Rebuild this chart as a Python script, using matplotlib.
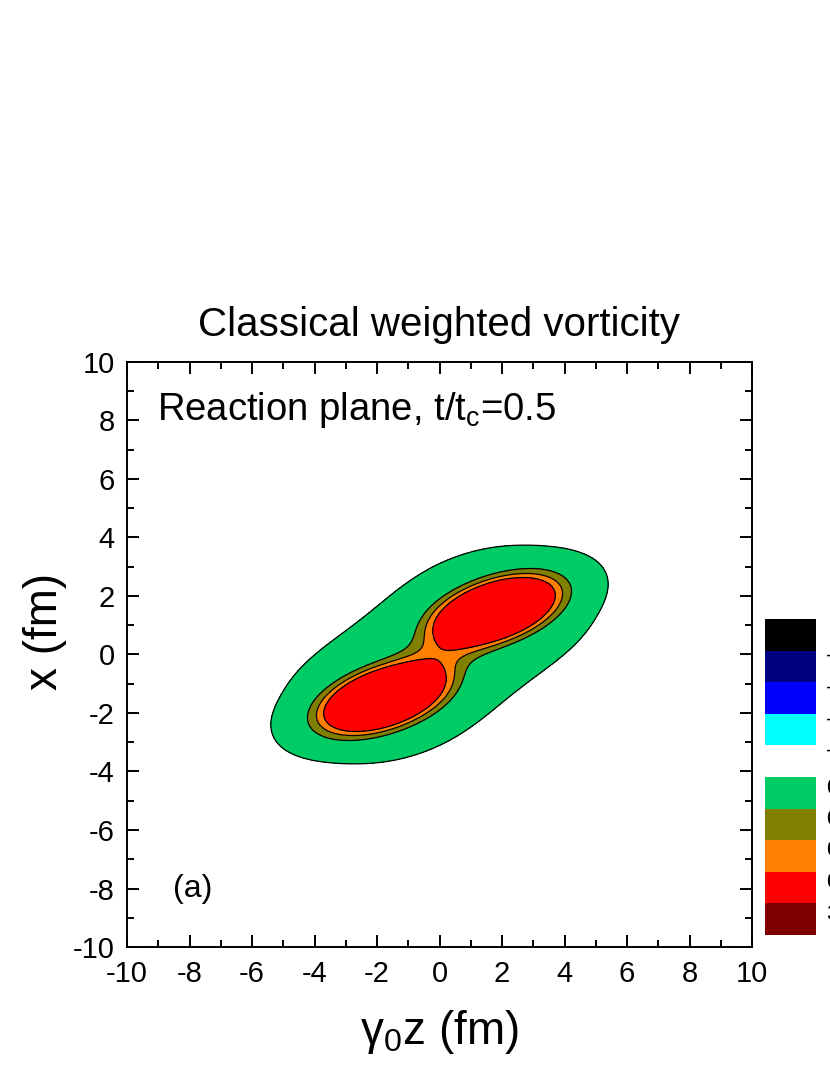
import matplotlib
matplotlib.use('Agg')
import matplotlib.pyplot as plt
import numpy as np
from matplotlib.patches import Rectangle

plt.rcParams['font.family'] = ['Liberation Sans', 'DejaVu Sans']
plt.rcParams['mathtext.fontset'] = 'custom'
plt.rcParams['mathtext.rm'] = 'Liberation Sans'
plt.rcParams['mathtext.it'] = 'Liberation Sans'
plt.rcParams['mathtext.default'] = 'regular'
plt.rcParams['axes.unicode_minus'] = False

# two vorticity lobes (z, x) in fm, plus their shape
peak_z = [1.8, -1.8]
peak_x = [1.5, -1.5]
peak_amp = [1.0, 1.0]
peak_su = [1.49, 1.49]     # width along the tilted axis
peak_sv = [0.716, 0.716]   # width across it
peak_tilt = [20.0, 20.0]   # degrees

# small bump in the neck between the lobes
neck_amp = 0.03
neck_su = 1.3
neck_sv = 0.9
neck_tilt = 80.0

# broad low tail around each lobe (gives the outer contour)
halo_amp = 0.12
halo_su = 2.45
halo_sv = 1.55
halo_tilt = 14.0

levels = [0.047, 0.234, 0.323, 0.407, 10.0]
fill_colors = ['#00CC66', '#808000', '#FF8000', '#FF0000']

legend_colors_neg = ['#000000', '#000080', '#0000FF', '#00FFFF']
legend_labels_neg = ['-0.5', '-0.1', '-0.05', '-0.01']
legend_colors_pos = ['#00CC66', '#808000', '#FF8000', '#FF0000', '#800000']
legend_labels_pos = ['0.01', '0.05', '0.1', '0.5', '3']

ticks = np.arange(-10, 11, 2)
minor_ticks = np.arange(-9, 10, 2)


def lobe(Z, X, zc, xc, su, sv, tilt):
    th = np.deg2rad(tilt)
    dz, dx = Z - zc, X - xc
    u = dz * np.cos(th) + dx * np.sin(th)
    v = -dz * np.sin(th) + dx * np.cos(th)
    return np.exp(-0.5 * (u**2 / su**2 + v**2 / sv**2))


g = np.linspace(-10, 10, 401)
Z, X = np.meshgrid(g, g)
core = neck_amp * lobe(Z, X, 0, 0, neck_su, neck_sv, neck_tilt)
halo = np.zeros_like(Z)
for i in range(len(peak_z)):
    core = core + peak_amp[i] * lobe(Z, X, peak_z[i], peak_x[i], peak_su[i], peak_sv[i], peak_tilt[i])
    halo = halo + halo_amp * lobe(Z, X, peak_z[i], peak_x[i], halo_su, halo_sv, halo_tilt)
W = (core**4 + halo**4) ** 0.25

fig = plt.figure(figsize=(8.3, 10.75), dpi=100)
ax = fig.add_axes([127/830, 1 - 947/1075, 625/830, 585/1075])

ax.contourf(Z, X, W, levels=levels, colors=fill_colors)
ax.contour(Z, X, W, levels=levels[:-1], colors='k', linewidths=0.9)

ax.set_xlim(-10, 10)
ax.set_ylim(-10, 10)
ax.set_xticks(ticks)
ax.set_yticks(ticks)
ax.set_xticks(minor_ticks, minor=True)
ax.set_yticks(minor_ticks, minor=True)
ax.tick_params(which='both', direction='in', top=True, right=True, width=1.4, labelsize=21)
ax.tick_params(which='major', length=8.5, pad=9)
ax.tick_params(which='minor', length=5)
for s in ax.spines.values():
    s.set_linewidth(1.4)

ax.set_xlabel(r'γ$_0$z (fm)', fontsize=33, va='center')
ax.xaxis.set_label_coords(0.5, -0.145)
ax.set_ylabel('x (fm)', fontsize=33, va='center')
ax.yaxis.set_label_coords(-0.131, 0.54)

ax.text(0.048, 0.90, r'Reaction plane, t/t$_c$=0.5', transform=ax.transAxes,
        fontsize=27.5, ha='left', va='baseline')
ax.text(0.074, 0.10, '(a)', transform=ax.transAxes, fontsize=23, ha='left', va='center')

fig.text(0.529, 1 - 325/1075, 'Classical weighted vorticity', fontsize=29, ha='center', va='center')

# legend boxes on the right (partly outside the picture, as in the original)
def box(top, color):
    fig.patches.append(Rectangle((765/830, 1 - (top + 31.5)/1075), 51/830, 31.5/1075,
                                 transform=fig.transFigure, facecolor=color,
                                 edgecolor='none'))

for i, (c, lab) in enumerate(zip(legend_colors_neg, legend_labels_neg)):
    top = 619 + 31.5 * i
    box(top, c)
    fig.text(826/830, 1 - (top + 38)/1075, lab, fontsize=16, ha='left', va='center')

for i, (c, lab) in enumerate(zip(legend_colors_pos, legend_labels_pos)):
    top = 777 + 31.5 * i
    box(top, c)
    fig.text(826/830, 1 - (top + 11)/1075, lab, fontsize=16, ha='left', va='center')

fig.savefig('out.png', dpi=100)
